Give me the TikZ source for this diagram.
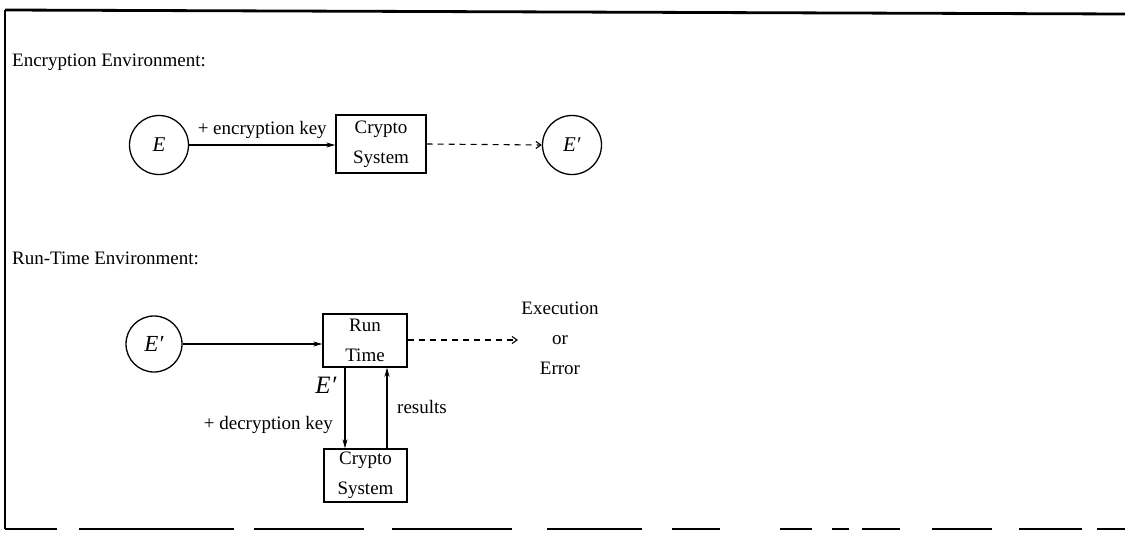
\documentclass[tikz,border=0pt]{standalone}
\usepackage{fontspec}
\setmainfont{Liberation Serif}
\usetikzlibrary{arrows.meta}
\tikzset{
  txt/.style={font=\fontsize{19}{30}\selectfont, inner sep=0pt},
  circ/.style={draw, circle, line width=1.3pt, minimum size=59pt, inner sep=0pt, font=\fontsize{21}{24}\selectfont},
  boxnode/.style={draw, rectangle, line width=1.4pt, align=center, inner sep=0pt, font=\fontsize{19}{30}\selectfont},
  conn/.style={line width=1.2pt, -{Stealth[length=9pt,width=5pt]}},
  dconn/.style={line width=1.1pt, dash pattern=on 6pt off 5pt, -{Straight Barb[length=5pt,width=7pt]}},
  frameline/.style={line width=2.8pt},
}
\begin{document}
\begin{tikzpicture}[x=1pt,y=-1pt]
\useasboundingbox (0,0) rectangle (1125,536);
% frame
\draw[frameline] (5,10) -- (1125,14);
\draw[frameline] (5,10) -- (5,529);
\draw[line width=1.6pt, dash pattern=on 52pt off 22pt on 155pt off 20pt on 110pt off 28pt on 120pt off 35pt on 95pt off 30pt on 48pt off 60pt on 32pt off 20pt on 17pt off 13pt on 38pt off 32pt on 60pt off 27pt on 63pt off 15pt] (5,529) -- (1125,529);

% Encryption environment
\node[txt, anchor=west] (h1) at (12,62) {Encryption Environment:};
\node[circ] (E) at (159,145) {\textit{E}};
\node[boxnode, minimum width=90pt, minimum height=58pt] (cs1) at (381,144) {Crypto\\System};
\node[circ] (Ep) at (572,145) {\textit{E′}};
\draw[conn] (E.east) -- (E.east -| cs1.west) node[txt, midway, above=6pt] (enck) {+ encryption key};
\draw[dconn] (cs1.east) -- (Ep.west);

% Run-time environment
\node[txt, anchor=west] (h2) at (12,258) {Run-Time Environment:};
\node[circ, minimum size=56pt] (E2) at (154,344) {\fontsize{23}{24}\selectfont\textit{E′}};
\node[boxnode, minimum width=84pt, minimum height=53pt] (rt) at (365,340.5) {Run\\Time};
\node[boxnode, minimum width=83pt, minimum height=53pt] (cs2) at (365.5,475.5) {Crypto\\System};
\node[txt, align=center] (out) at (560,338) {Execution\\or\\Error};
\coordinate (outend) at (518,340);
\draw[conn] (E2.east) -- (E2.east -| rt.west);
\draw[dconn] (rt.east |- outend) -- (outend);
\draw[conn] ([xshift=-20pt]rt.south) -- ([xshift=-20pt]rt.south |- cs2.north);
\draw[conn] ([xshift=22pt]rt.south |- cs2.north) -- ([xshift=22pt]rt.south);
\node[txt, font=\fontsize{25}{28}\selectfont] (elab) at (326,385) {\textit{E′}};
\node[txt, anchor=east] (deck) at (333,425) {+ decryption key};
\node[txt, anchor=west] (res) at (397,407) {results};
\end{tikzpicture}
\end{document}
